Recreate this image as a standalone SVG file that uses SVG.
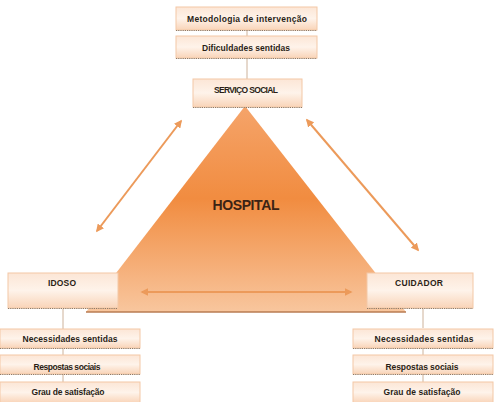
<svg xmlns="http://www.w3.org/2000/svg" width="499" height="402" viewBox="0 0 499 402">
<style>
.box{fill:url(#boxg);stroke:#F3C8A6;stroke-width:1}
.shad{stroke:#8C7A68;stroke-width:1;stroke-dasharray:1.2 1}
.t{font-family:"Liberation Sans",Arial,sans-serif;font-weight:bold;font-size:8.5px;fill:#2A1E16;text-anchor:middle}
.conn{stroke:#CDB29A;stroke-width:1;fill:none}
.arr{stroke:#EC9A5A;stroke-width:2;fill:none;marker-start:url(#ah);marker-end:url(#ah)}
</style>
<defs>
<linearGradient id="boxg" x1="0" y1="0" x2="0" y2="1">
<stop offset="0" stop-color="#FCE6D6"/>
<stop offset="0.5" stop-color="#FEF3EA"/>
<stop offset="1" stop-color="#F9D4B8"/>
</linearGradient>
<linearGradient id="trig" x1="0" y1="0" x2="0" y2="1">
<stop offset="0" stop-color="#F5A46A"/>
<stop offset="0.45" stop-color="#F18C40"/>
<stop offset="1" stop-color="#F8C69E"/>
</linearGradient>
<marker id="ah" viewBox="0 0 10 10" refX="8" refY="5" markerWidth="4" markerHeight="4" orient="auto-start-reverse">
<path d="M0,0 L10,5 L0,10 z" fill="#EC9A5A"/>
</marker>
</defs>

<g id="hospital">
<polygon points="245,106 86,312 406,312" fill="url(#trig)"/>
<line x1="86" y1="312" x2="406" y2="312" stroke="#B97B52" stroke-width="1.5"/>
<text x="246" y="210" style="font-family:'Liberation Sans',Arial,sans-serif;font-weight:bold;font-size:14px;fill:#3B2314;text-anchor:middle" textLength="67">HOSPITAL</text>
</g>

<g id="connectors">
<line class="conn" x1="247" y1="30" x2="247" y2="36"/>
<line class="conn" x1="247" y1="58" x2="247" y2="79"/>
<line class="conn" x1="63" y1="309" x2="63" y2="329"/>
<line class="conn" x1="63" y1="349" x2="63" y2="355"/>
<line class="conn" x1="63" y1="374" x2="63" y2="382"/>
<line class="conn" x1="423" y1="309" x2="423" y2="328"/>
<line class="conn" x1="423" y1="349" x2="423" y2="355"/>
<line class="conn" x1="423" y1="374" x2="423" y2="382"/>
<line class="arr" x1="97" y1="231" x2="181" y2="121"/>
<line class="arr" x1="307" y1="120" x2="418" y2="250"/>
<line class="arr" x1="142" y1="292" x2="351" y2="292"/>
</g>

<g id="metodologia">
<rect class="box" x="176" y="7" width="141" height="23"/>
<line class="shad" x1="176" y1="30.5" x2="317" y2="30.5"/>
<text class="t" x="247" y="22" textLength="120">Metodologia de intervenção</text>
</g>
<g id="dificuldades">
<rect class="box" x="176" y="36" width="141" height="22"/>
<line class="shad" x1="176" y1="58.5" x2="317" y2="58.5"/>
<text class="t" x="246" y="50.5" textLength="88">Dificuldades sentidas</text>
</g>
<g id="servico">
<rect class="box" x="193" y="79" width="109" height="28"/>
<line class="shad" x1="193" y1="107.5" x2="302" y2="107.5"/>
<text class="t" x="246" y="93" textLength="64">SERVIÇO SOCIAL</text>
</g>

<g id="idoso">
<rect class="box" x="8" y="273" width="110" height="35"/>
<line class="shad" x1="8" y1="308.5" x2="118" y2="308.5"/>
<text class="t" x="62" y="286" textLength="28">IDOSO</text>
</g>
<g id="idoso-necessidades">
<rect class="box" x="0" y="329" width="140" height="19"/>
<line class="shad" x1="0" y1="348.5" x2="140" y2="348.5"/>
<text class="t" x="70" y="342" textLength="95">Necessidades sentidas</text>
</g>
<g id="idoso-respostas">
<rect class="box" x="0" y="355" width="140" height="19"/>
<line class="shad" x1="0" y1="374.5" x2="140" y2="374.5"/>
<text class="t" x="67" y="370" textLength="67">Respostas sociais</text>
</g>
<g id="idoso-grau">
<rect class="box" x="0" y="382" width="140" height="21"/>
<text class="t" x="68" y="395" textLength="73">Grau de satisfação</text>
</g>

<g id="cuidador">
<rect class="box" x="367" y="273" width="106" height="35"/>
<line class="shad" x1="367" y1="308.5" x2="473" y2="308.5"/>
<text class="t" x="419" y="286" textLength="48">CUIDADOR</text>
</g>
<g id="cuidador-necessidades">
<rect class="box" x="353" y="329" width="140" height="19"/>
<line class="shad" x1="353" y1="348.5" x2="493" y2="348.5"/>
<text class="t" x="424" y="342" textLength="99">Necessidades sentidas</text>
</g>
<g id="cuidador-respostas">
<rect class="box" x="353" y="355" width="140" height="19"/>
<line class="shad" x1="353" y1="374.5" x2="493" y2="374.5"/>
<text class="t" x="422" y="370" textLength="73">Respostas sociais</text>
</g>
<g id="cuidador-grau">
<rect class="box" x="353" y="382" width="140" height="21"/>
<text class="t" x="422" y="395" textLength="77">Grau de satisfação</text>
</g>
</svg>
